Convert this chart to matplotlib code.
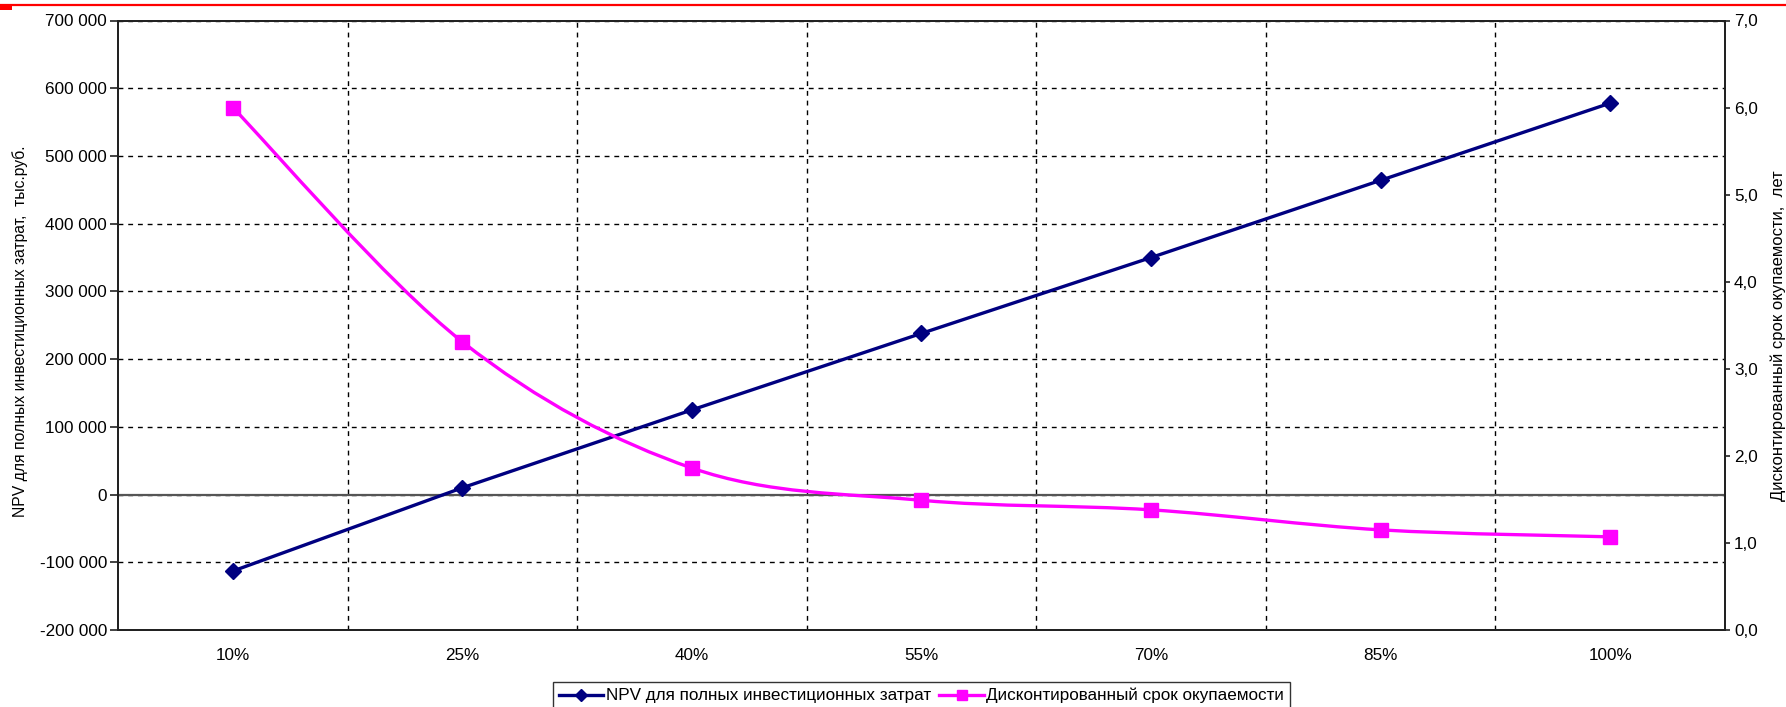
import numpy as np
import matplotlib
matplotlib.use("Agg")
import matplotlib.pyplot as plt
from matplotlib.path import Path
from matplotlib.patches import PathPatch, Rectangle
from matplotlib.lines import Line2D
from matplotlib.ticker import FuncFormatter

plt.rcParams['font.family'] = ['Liberation Sans', 'DejaVu Sans']

# ---- data ----
categories = ["10%", "25%", "40%", "55%", "70%", "85%", "100%"]
npv = [-113000, 10000, 125000, 238000, 350000, 464000, 578000]
payback = [6.0, 3.31, 1.86, 1.49, 1.38, 1.15, 1.07]
npv_label = "NPV для полных инвестиционных затрат"
pb_label = "Дисконтированный срок окупаемости"
left_axis_title = "NPV для полных инвестиционных затрат,  тыс.руб."
right_axis_title = "Дисконтированный срок окупаемости,  лет"

W, H = 1786, 707
fig = plt.figure(figsize=(W / 100, H / 100), dpi=100)
fig.patch.set_facecolor("white")

L, R, T, B = 118, 1725, 20.5, 630
ax = fig.add_axes([L / W, 1 - B / H, (R - L) / W, (B - T) / H])
ax2 = ax.twinx()

x = np.arange(len(categories))
NAVY = "#000080"
PINK = "#FF00FF"

ax.set_xlim(-0.5, len(categories) - 0.5)
ax.set_ylim(-200000, 700000)
ax.set_yticks(np.arange(-200000, 700001, 100000))
ax.yaxis.set_major_formatter(FuncFormatter(lambda v, p: f"{v:,.0f}".replace(",", " ")))
ax.set_xticks(x)
ax.set_xticklabels(categories)
ax.set_xticks(np.arange(0.5, len(categories) - 1), minor=True)

ax2.set_ylim(0, 7)
ax2.set_yticks(np.arange(0, 8, 1))
ax2.yaxis.set_major_formatter(FuncFormatter(lambda v, p: f"{v:.1f}".replace(".", ",")))

# grid
ax.yaxis.grid(True, which="major", color="black", linestyle=(0, (3.5, 3.5)), linewidth=1.0)
ax.xaxis.grid(True, which="minor", color="black", linestyle=(0, (3.5, 3.5)), linewidth=1.0)
ax.xaxis.grid(False, which="major")
ax.axhline(0, color="#555555", linewidth=1.6, zorder=2)
ax.set_axisbelow(True)

for a in (ax, ax2):
    for s in a.spines.values():
        s.set_color("#222222")
        s.set_linewidth(1.4)

ax.tick_params(axis="y", which="major", direction="out", length=5.5, width=1.2, labelsize=12.3, pad=2.5, colors="#222222")
ax.tick_params(axis="y", labelcolor="black")
ax.tick_params(axis="x", which="major", length=0, labelsize=12.3, pad=13, labelcolor="black")
ax.tick_params(axis="x", which="minor", length=0)
ax2.tick_params(axis="y", direction="out", length=3.5, width=1.2, labelsize=12.3, pad=3, colors="#222222")
ax2.tick_params(axis="y", labelcolor="black")

fig.text(20 / W, 1 - ((T + B) / 2 + 6) / H, left_axis_title, rotation=90,
         ha="center", va="center", fontsize=11.3)
fig.text(1778 / W, 1 - ((T + B) / 2 + 10) / H, right_axis_title, rotation=90,
         ha="center", va="center", fontsize=12)

# NPV line (straight segments)
ax.plot(x, npv, color=NAVY, linewidth=2.4, marker="D", markersize=8, zorder=5)

# payback: Excel-style smoothed line through the data points
px = np.asarray(x, dtype=float)
py = np.asarray(payback, dtype=float)
verts = [(px[0], py[0])]
codes = [Path.MOVETO]
n = len(px)
for i in range(n - 1):
    p0 = np.array([px[max(i - 1, 0)], py[max(i - 1, 0)]])
    p1 = np.array([px[i], py[i]])
    p2 = np.array([px[i + 1], py[i + 1]])
    p3 = np.array([px[min(i + 2, n - 1)], py[min(i + 2, n - 1)]])
    c1 = p1 + (p2 - p0) / 6.0
    c2 = p2 - (p3 - p1) / 6.0
    verts += [tuple(c1), tuple(c2), tuple(p2)]
    codes += [Path.CURVE4, Path.CURVE4, Path.CURVE4]
ax2.add_patch(PathPatch(Path(verts, codes), facecolor="none", edgecolor=PINK, linewidth=2.4, zorder=4))
ax2.plot(px, py, linestyle="none", marker="s", markersize=10, color=PINK, zorder=5)

# legend
h1 = Line2D([], [], color=NAVY, linewidth=2.4, marker="D", markersize=6)
h2 = Line2D([], [], color=PINK, linewidth=2.4, marker="s", markersize=7.5)
leg = fig.legend([h1, h2], [npv_label, pb_label], loc="upper center",
                 bbox_to_anchor=((L + R) / 2 / W, 1 - 682 / H), ncol=2,
                 fontsize=12.3, frameon=True, fancybox=False, edgecolor="black",
                 handlelength=2.6, handletextpad=0.15, columnspacing=0.5,
                 borderpad=0.35, borderaxespad=0)
leg.get_frame().set_linewidth(1.0)

# decorative red rule at top
fig.add_artist(Line2D([0, 1], [1 - 4.5 / H, 1 - 4.5 / H], transform=fig.transFigure, color="red", linewidth=1.6))
fig.add_artist(Rectangle((0, 1 - 10 / H), 12 / W, 5.5 / H, transform=fig.transFigure, color="red", linewidth=0))

fig.savefig("out.png", dpi=100)
